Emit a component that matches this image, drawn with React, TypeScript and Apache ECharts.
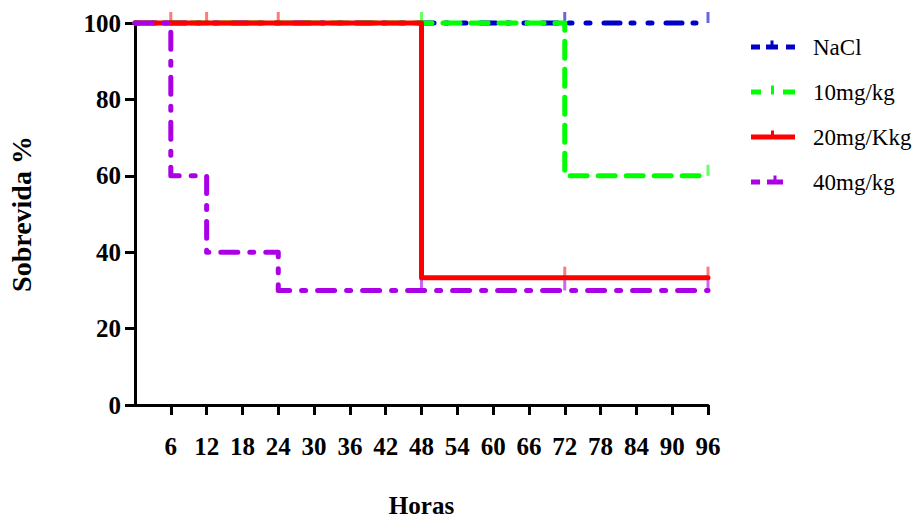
import React, { useEffect, useRef } from "react";
import * as echarts from "echarts";

const xTicks = [6, 12, 18, 24, 30, 36, 42, 48, 54, 60, 66, 72, 78, 84, 90, 96];
const seriesNames = ["NaCl", "10mg/kg", "20mg/Kkg", "40mg/kg"];
const colors = ["#0000c8", "#00ff00", "#ff0000", "#aa00e6"];
const tickColors = ["rgba(0,0,200,0.75)", "rgba(0,255,0,0.75)", "rgba(255,0,0,0.65)", "rgba(170,0,230,0.75)"];

// Kaplan-Meier curves: [hours, survival %] at each step
const naclCurve = [[0, 100], [96, 100]];
const mg10Curve = [[0, 100], [72, 60], [96, 60]];
const mg20Curve = [[0, 100], [48, 33.33], [96, 33.33]];
const mg40Curve = [[0, 100], [6, 60], [12, 40], [24, 30], [96, 30]];

// censored observations
const naclCensor = [[72, 100], [96, 100]];
const mg10Censor = [[48, 100], [96, 60]];
const mg20Censor = [[6, 100], [12, 100], [24, 100], [48, 33.33], [72, 33.33], [96, 33.33]];
const mg40Censor = [[48, 30], [72, 30], [96, 30]];

const curves = [naclCurve, mg10Curve, mg20Curve, mg40Curve];
const censors = [naclCensor, mg10Censor, mg20Censor, mg40Censor];
const dashes: (number[] | string)[] = [[3, 14, 4, 14, 16, 11], [17, 11], "solid", [17, 12, 4, 12]];

const pad = "M56.99,13.99h0.01v0.01h-0.01z";
const icons = [
  "path://M0,4h9v5h-9z M15,4h12v5h-12z M19.5,0h3v4h-3z M35,4h9v5h-9z " + pad,
  "path://M0,4h10v5h-10z M20,0h3v9h-3z M32,4h12v5h-12z " + pad,
  "path://M0,4h44v5h-44z M20,0h3v4h-3z " + pad,
  "path://M0,4h9v5h-9z M16,4h16v5h-16z M22.5,0h3v4h-3z " + pad,
];

const FONT = "'Liberation Serif', 'Times New Roman', serif";

export default function App() {
  const ref = useRef<HTMLDivElement>(null);
  useEffect(() => {
    document.body.style.margin = "0";
    const chart = echarts.init(ref.current!, null, { renderer: "svg", width: 912, height: 519 });
    const lineSeries = curves.map((c, i) => ({
      name: seriesNames[i],
      type: "line",
      data: c,
      step: "end",
      symbol: "none",
      clip: false,
      z: 2 + i,
      lineStyle: { color: colors[i], width: 5, type: dashes[i], cap: "round", join: "round" },
      itemStyle: { color: colors[i] },
    }));
    const censorSeries = censors.map((c, i) => ({
      name: seriesNames[i] + " censored",
      type: "scatter",
      data: c,
      symbol: "rect",
      symbolSize: [3, 11],
      symbolOffset: [0, -5.5],
      clip: false,
      z: 2 + i,
      itemStyle: { color: tickColors[i] },
    }));
    chart.setOption({
      animation: false,
      grid: { left: 135, right: 204, top: 23, bottom: 114, containLabel: false, outerBoundsMode: "none" },
      legend: {
        orient: "vertical",
        left: 746,
        top: 31,
        itemWidth: 57,
        itemHeight: 14,
        itemGap: 22,
        data: seriesNames.map((n, i) => ({ name: n, icon: icons[i] })),
        textStyle: { fontFamily: FONT, fontSize: 23, color: "#000" },
      },
      xAxis: {
        type: "value",
        min: 0,
        max: 96,
        interval: 6,
        splitLine: { show: false },
        axisLine: { lineStyle: { color: "#000", width: 3 } },
        axisTick: { show: true, length: 10, lineStyle: { color: "#000", width: 3 }, customValues: xTicks },
        axisLabel: {
          customValues: xTicks,
          fontFamily: FONT,
          fontWeight: "bold",
          fontSize: 25,
          color: "#000",
          margin: 29,
        },
        name: "Horas",
        nameLocation: "middle",
        nameGap: 88,
        nameTextStyle: { fontFamily: FONT, fontWeight: "bold", fontSize: 25, color: "#000" },
      },
      yAxis: {
        type: "value",
        min: 0,
        max: 100,
        interval: 20,
        splitLine: { show: false },
        axisLine: { show: true, lineStyle: { color: "#000", width: 3 } },
        axisTick: { show: true, length: 10, lineStyle: { color: "#000", width: 3 } },
        axisLabel: { fontFamily: FONT, fontWeight: "bold", fontSize: 25, color: "#000", margin: 14 },
        name: "Sobrevida %",
        nameLocation: "middle",
        nameGap: 100,
        nameTextStyle: { fontFamily: FONT, fontWeight: "bold", fontSize: 28, color: "#000" },
      },
      series: [...lineSeries, ...censorSeries],
    });
    return () => chart.dispose();
  }, []);
  return <div ref={ref} style={{ position: "absolute", left: 0, top: 0, width: 912, height: 519 }} />;
}
